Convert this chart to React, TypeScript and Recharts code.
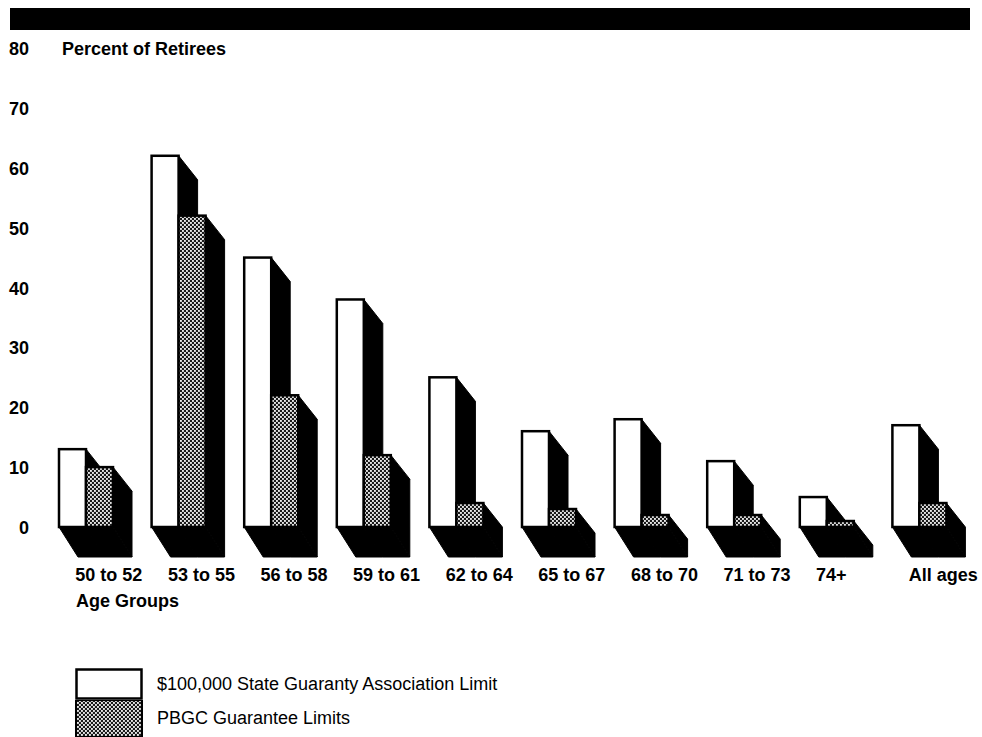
import React from 'react';
import { BarChart, Bar, XAxis, YAxis, Legend, Label } from 'recharts';

const categories = ['50 to 52', '53 to 55', '56 to 58', '59 to 61', '62 to 64', '65 to 67', '68 to 70', '71 to 73', '74+', 'All ages'];
const stateLimit = [13, 62, 45, 38, 25, 16, 18, 11, 5, 17];
const pbgcLimit = [10, 52, 22, 12, 4, 3, 2, 2, 1, 4];
const yTicks = [0, 10, 20, 30, 40, 50, 60, 70, 80];
const seriesNames = ['$100,000 State Guaranty Association Limit', 'PBGC Guarantee Limits'];
const yAxisTitle = 'Percent of Retirees';
const xAxisTitle = 'Age Groups';

const data = categories.map((c, i) => ({ name: c, state: stateLimit[i], pbgc: pbgcLimit[i] }));

const FONT = '"Liberation Sans", Arial, Helvetica, sans-serif';
const DX = 19;
const DY_TOP = 24;
const DY_BASE = 30;

const make3D = (frontFill: string) => (props: any) => {
  const { x, y, width, height } = props;
  if (width == null || height == null) return <g />;
  const base = y + height;
  const x1 = x + width;
  const side = `${x1},${y} ${x1 + DX},${y + DY_TOP} ${x1 + DX},${base + DY_BASE} ${x1},${base}`;
  const floor = `${x},${base} ${x1},${base} ${x1 + DX},${base + DY_BASE} ${x + DX},${base + DY_BASE}`;
  return (
    <g>
      <polygon points={floor} fill="#000" stroke="#000" strokeWidth={1} />
      <polygon points={side} fill="#000" stroke="#000" strokeWidth={1} />
      <rect x={x} y={y} width={width} height={height} fill={frontFill} stroke="#000" strokeWidth={2.5} />
    </g>
  );
};

const YTick = (props: any) => {
  const { x, y, payload } = props;
  return (
    <text x={x} y={y + 7} textAnchor="end" fontFamily={FONT} fontWeight="bold" fontSize={18} fill="#000">
      {payload.value}
    </text>
  );
};

const XTick = (props: any) => {
  const { x, y, payload } = props;
  return (
    <text x={x - 11} y={y + 54} textAnchor="start" fontFamily={FONT} fontWeight="bold" fontSize={18} fill="#000">
      {payload.value}
    </text>
  );
};

const PatternDefs = ({ id }: { id: string }) => (
  <defs>
    <pattern id={id} patternUnits="userSpaceOnUse" width={4} height={4}>
      <rect x={0} y={0} width={4} height={4} fill="#1a1a1a" />
      <rect x={0} y={0} width={1.9} height={1.9} fill="#e8e8e8" />
      <rect x={2} y={2} width={1.9} height={1.9} fill="#e8e8e8" />
    </pattern>
  </defs>
);

const renderLegend = () => (
  <div style={{ fontFamily: FONT, fontSize: 18, color: '#000' }}>
    <div style={{ display: 'flex', alignItems: 'center', height: 32 }}>
      <svg width={68} height={32} style={{ display: 'block' }}>
        <rect x={1.5} y={1.5} width={65} height={29} fill="#fff" stroke="#000" strokeWidth={2.5} />
      </svg>
      <span style={{ marginLeft: 14 }}>{seriesNames[0]}</span>
    </div>
    <div style={{ display: 'flex', alignItems: 'center', height: 37 }}>
      <svg width={68} height={37} style={{ display: 'block' }}>
        <PatternDefs id="legendDots" />
        <rect x={1} y={0} width={66} height={37} fill="url(#legendDots)" stroke="#000" strokeWidth={2} />
      </svg>
      <span style={{ marginLeft: 14 }}>{seriesNames[1]}</span>
    </div>
  </div>
);

export default function App() {
  return (
    <div style={{ position: 'absolute', left: 0, top: 0, width: 982, height: 737, background: '#fff' }}>
      <div style={{ position: 'absolute', left: 10, top: 8, width: 960, height: 22, background: '#000' }} />
      <BarChart
        width={982}
        height={737}
        data={data}
        margin={{ top: 48, right: 16, bottom: 180, left: 0 }}
        barGap={0}
        barSize={27}
      >
        <PatternDefs id="grayDots" />
        <XAxis
          dataKey="name"
          axisLine={false}
          tickLine={false}
          tickSize={0}
          tickMargin={0}
          height={30}
          interval={0}
          tick={<XTick />}
        >
          <Label
            content={(p: any) => (
              <text x={p.viewBox.x + 36} y={p.viewBox.y + 80} fontFamily={FONT} fontWeight="bold" fontSize={18} fill="#000">
                {xAxisTitle}
              </text>
            )}
          />
        </XAxis>
        <YAxis
          domain={[0, 80]}
          ticks={yTicks}
          width={40}
          axisLine={false}
          tickLine={false}
          tickSize={0}
          tickMargin={11}
          interval={0}
          tick={<YTick />}
        >
          <Label
            content={(p: any) => (
              <text x={p.viewBox.x + 62} y={p.viewBox.y + 7} fontFamily={FONT} fontWeight="bold" fontSize={18} fill="#000">
                {yAxisTitle}
              </text>
            )}
          />
        </YAxis>
        <Legend
          layout="horizontal"
          verticalAlign="middle"
          align="center"
          content={renderLegend}
          wrapperStyle={{ left: 75, top: 668, width: 600, height: 69 }}
        />
        <Bar dataKey="state" name={seriesNames[0]} fill="#fff" shape={make3D('#fff')} isAnimationActive={false} />
        <Bar dataKey="pbgc" name={seriesNames[1]} fill="#555" shape={make3D('url(#grayDots)')} isAnimationActive={false} />
      </BarChart>
    </div>
  );
}
